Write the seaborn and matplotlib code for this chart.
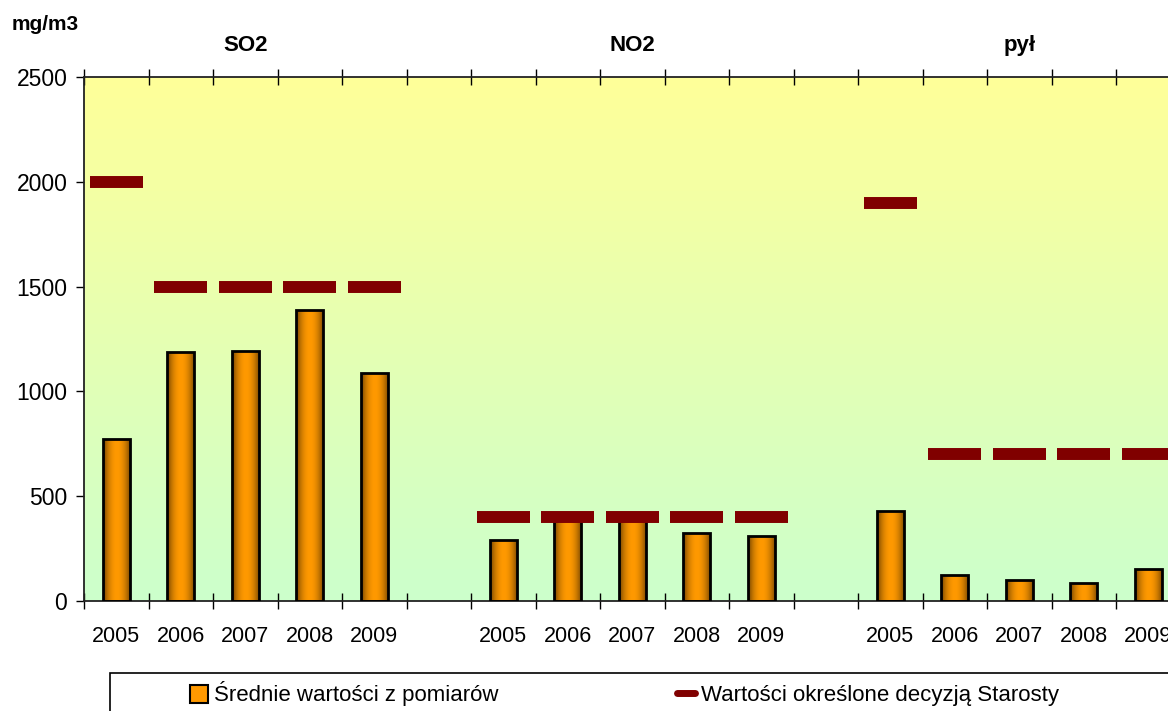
import numpy as np
import pandas as pd
import matplotlib
matplotlib.use("Agg")
import matplotlib.pyplot as plt
from matplotlib.colors import LinearSegmentedColormap
from matplotlib.lines import Line2D
from matplotlib.patches import Patch, Rectangle
import seaborn as sns

years = ["2005", "2006", "2007", "2008", "2009"]
groups = ["SO2", "NO2", "pył"]

so2_measured = [775, 1190, 1195, 1390, 1090]
no2_measured = [290, 395, 390, 325, 310]
pyl_measured = [430, 125, 100, 85, 155]

so2_limit = [2000, 1500, 1500, 1500, 1500]
no2_limit = [400, 400, 400, 400, 400]
pyl_limit = [1900, 700, 700, 700, 700]

measured_label = "Średnie wartości z pomiarów"
limit_label = "Wartości określone decyzją Starosty"

# one empty slot between the pollutant groups
rows = []
for g, (meas, lim) in enumerate(zip([so2_measured, no2_measured, pyl_measured],
                                    [so2_limit, no2_limit, pyl_limit])):
    for j, year in enumerate(years):
        rows.append({"group": groups[g], "year": year, "slot": g * 6 + j,
                     "measured": meas[j], "limit": lim[j]})
df = pd.DataFrame(rows)
n_slots = df["slot"].max() + 1

sns.set_theme(style="white")
plt.rcParams["font.family"] = ["Liberation Sans", "DejaVu Sans"]
plt.rcParams["text.color"] = "black"
plt.rcParams["xtick.color"] = "black"
plt.rcParams["ytick.color"] = "black"

fig = plt.figure(figsize=(11.68, 7.11), dpi=100)
ax = fig.add_axes([84 / 1168, 110 / 711, 64.5 * n_slots / 1168, 524 / 711])

# background gradient: light green at the bottom, pale yellow at the top
bg_cmap = LinearSegmentedColormap.from_list("bg", ["#ccffcc", "#ffff99"])
ax.imshow(np.linspace(0, 1, 256).reshape(-1, 1), cmap=bg_cmap, origin="lower",
          extent=[-0.5, n_slots - 0.5, 0, 2500], aspect="auto", zorder=0)

sns.barplot(data=df, x="slot", y="measured", native_scale=True, width=0.42,
            color="#ff9900", saturation=1, errorbar=None, ax=ax, zorder=2)

# orange bars shaded dark at the sides
bar_cmap = LinearSegmentedColormap.from_list("bar", ["#603800", "#ff9900"])
t = np.linspace(0, 1, 64)
shade = (np.sin(np.pi * t) ** 0.7).reshape(1, -1)
for patch in list(ax.patches):
    x0, w, h = patch.get_x(), patch.get_width(), patch.get_height()
    im = ax.imshow(shade, cmap=bar_cmap, extent=[x0, x0 + w, 0, h],
                   aspect="auto", zorder=2.5, vmin=0, vmax=1)
    im.set_clip_path(patch)
    patch.set_facecolor("none")
    patch.set_edgecolor("black")
    patch.set_linewidth(2)
    patch.set_zorder(3)

ax.hlines(df["limit"], df["slot"] - 0.41, df["slot"] + 0.41,
          colors="#800000", linewidth=8.6, zorder=4)

ax.set_xlim(-0.5, n_slots - 0.5)
ax.set_ylim(0, 2500)
ax.set_yticks(np.arange(0, 2501, 500))
ax.set_xticks(np.arange(-0.5, n_slots, 1))
ax.set_xticklabels([])
label_slots = np.arange(n_slots)
slot_labels = dict(zip(df["slot"], df["year"]))
ax.set_xticks(label_slots, minor=True)
ax.set_xticklabels([slot_labels.get(s, "") for s in label_slots], minor=True)
ax.set_xlabel("")
ax.set_ylabel("")

ax.tick_params(axis="x", which="major", top=True, bottom=True, direction="inout",
               length=11, width=1, color="black")
ax.tick_params(axis="x", which="minor", length=0, pad=18, labelsize=15.5)
ax.tick_params(axis="y", left=True, direction="out", length=6, width=1,
               color="black", pad=6, labelsize=16.5)
for side in ["left", "bottom", "top"]:
    ax.spines[side].set_color("#222222")
    ax.spines[side].set_linewidth(1.3)
ax.spines["right"].set_visible(False)

fig.text(12 / 1168, 1 - 24 / 711, "mg/m3", fontsize=15, fontweight="bold", va="center")
for g, name in enumerate(groups):
    ax.text(g * 6 + 2, 1.061, name, transform=ax.get_xaxis_transform(),
            ha="center", va="center", fontsize=16, fontweight="bold")

fig.add_artist(Rectangle((110 / 1168, -0.05), 1.2, (711 - 673) / 711 + 0.05,
                         transform=fig.transFigure, facecolor="white",
                         edgecolor="black", linewidth=1.2))
handles = [Patch(facecolor="#ff9900", edgecolor="black", linewidth=1.5),
           Line2D([], [], color="#800000", linewidth=5)]
fig.legend(handles, [measured_label, limit_label], loc="center left",
           bbox_to_anchor=(190 / 1168, 1 - 694 / 711), ncol=2, frameon=False,
           fontsize=16, handlelength=0.8, handleheight=0.9, handletextpad=0.3,
           columnspacing=8, borderaxespad=0, borderpad=0)

fig.savefig("out.png", dpi=100)
